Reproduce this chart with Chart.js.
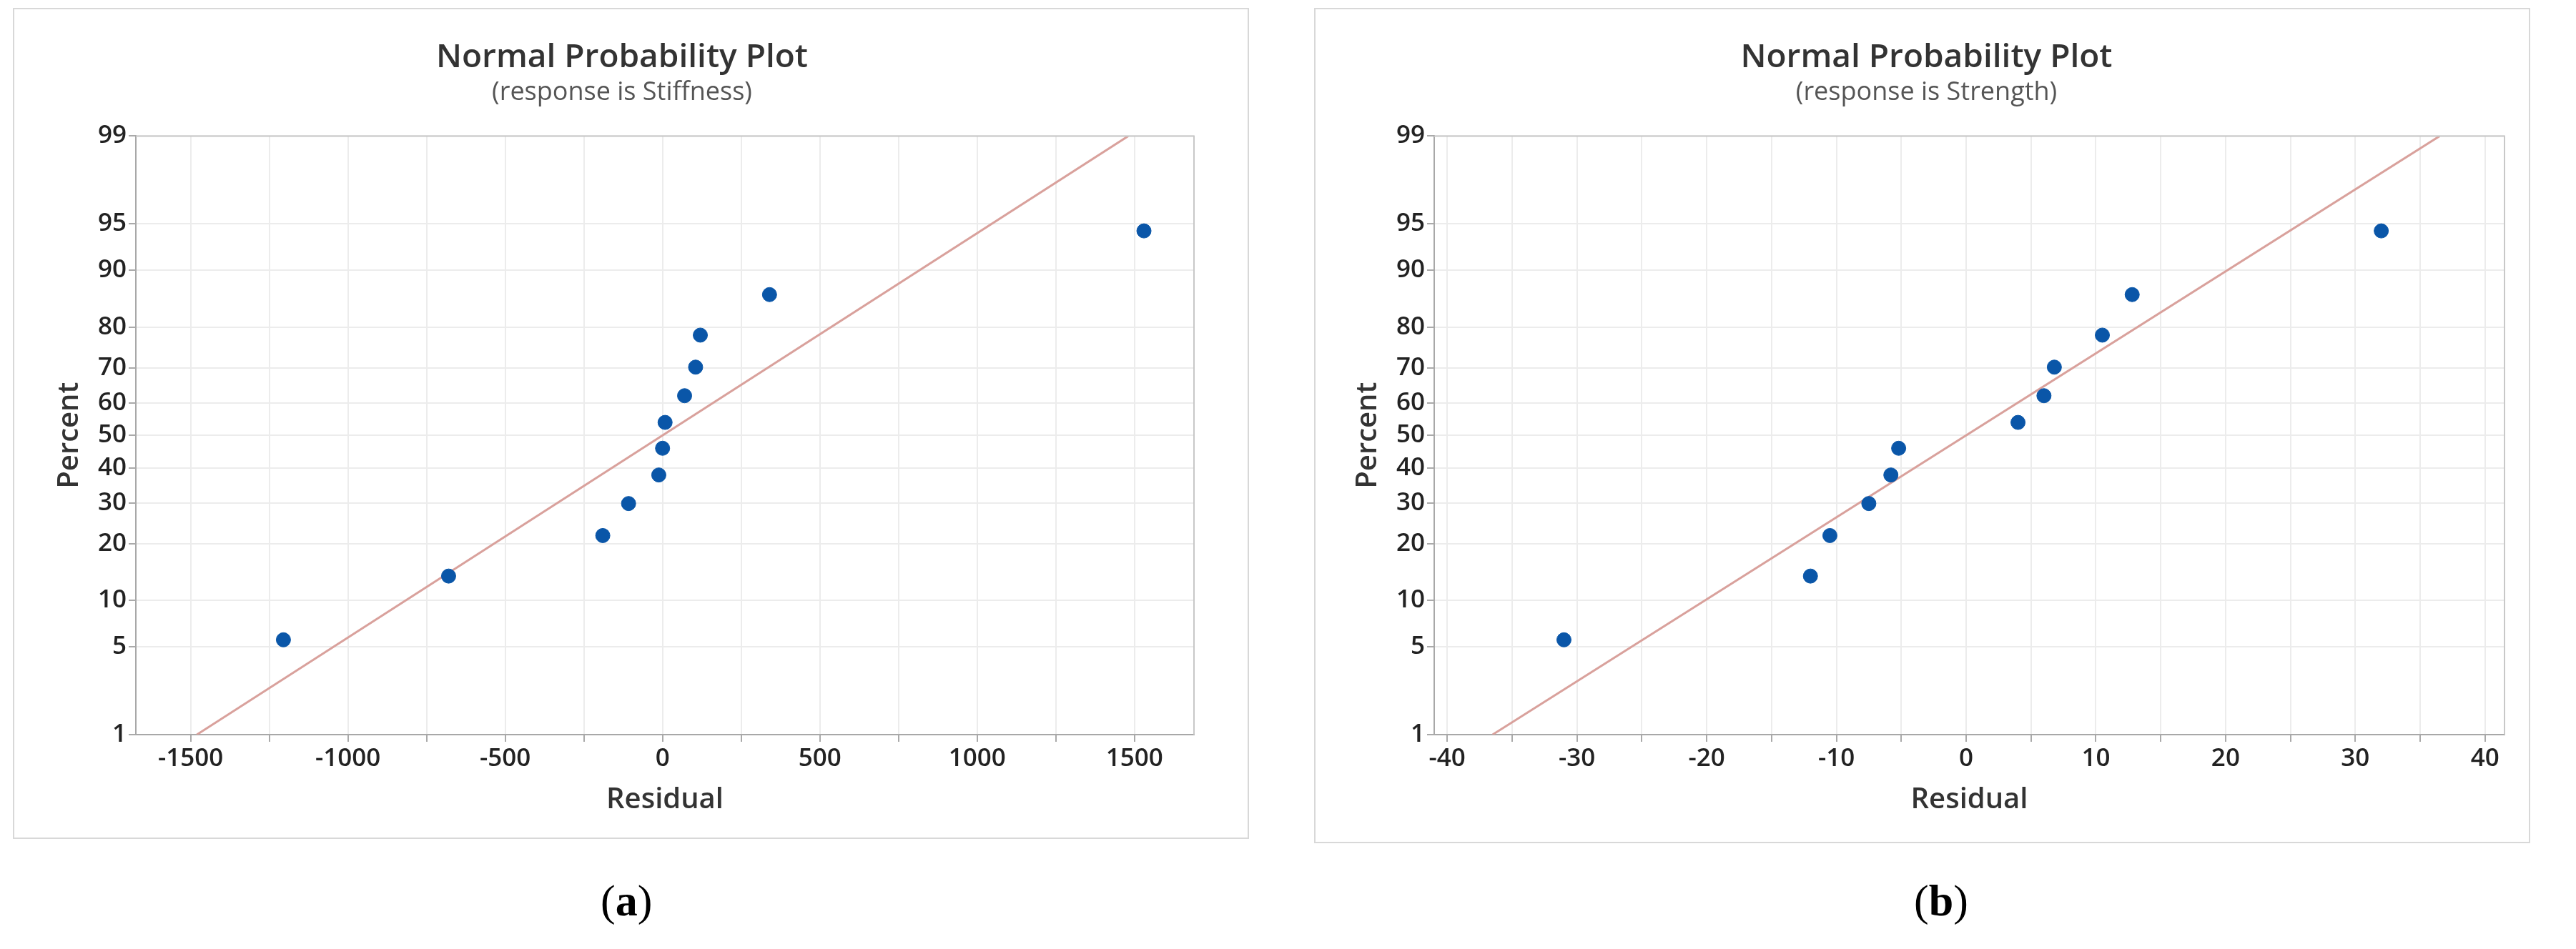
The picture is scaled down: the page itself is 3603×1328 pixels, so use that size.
<!DOCTYPE html>
<html><head><meta charset="utf-8">
<script src="https://cdn.jsdelivr.net/npm/chart.js@4.4.1/dist/chart.umd.min.js"></script>
<style>
body{margin:0;background:#fff;width:3603px;height:1328px;position:relative;overflow:hidden}
.panel{position:absolute;border:2px solid #d8d8d8;box-sizing:border-box}
.cap{position:absolute;font-family:"Liberation Serif",serif;font-size:62px;color:#000;top:1225px}
</style></head><body>
<div class="panel" style="left:18px;top:11px;width:1729px;height:1163px"><canvas id="cA"></canvas></div>
<div class="panel" style="left:1838px;top:11px;width:1701px;height:1169px"><canvas id="cB"></canvas></div>
<div class="cap" style="left:840px">(<b>a</b>)</div>
<div class="cap" style="left:2677px">(<b>b</b>)</div>
<script>
// percent positions (median ranks) shared by both plots
const pctA = [5.6, 13.7, 21.8, 29.8, 37.9, 46.0, 54.0, 62.1, 70.2, 78.2, 86.3, 94.4];
const residA = [-1205, -680, -190, -108, -12, 0, 8, 70, 105, 120, 340, 1530];
const residB = [-31, -12, -10.5, -7.5, -5.8, -5.2, 4, 6, 6.8, 10.5, 12.8, 32];
const fitXA = [-1480, 1480];
const fitXB = [-36.5, 36.5];
const fitP = [1, 99];
const yTicks = [1, 5, 10, 20, 30, 40, 50, 60, 70, 80, 90, 95, 99];

// inverse normal (Acklam)
function z(p) {
  p = p / 100;
  const a = [-39.69683028665376, 220.9460984245205, -275.9285104469687, 138.357751867269, -30.66479806614716, 2.506628277459239];
  const b = [-54.47609879822406, 161.5858368580409, -155.6989798598866, 66.80131188771972, -13.28068155288572];
  const c = [-0.007784894002430293, -0.3223964580411365, -2.400758277161838, -2.549732539343734, 4.374664141464968, 2.938163982698783];
  const d = [0.007784695709041462, 0.3224671290700398, 2.445134137142996, 3.754408661907416];
  const pl = 0.02425;
  let q, r;
  if (p < pl) {
    q = Math.sqrt(-2 * Math.log(p));
    return (((((c[0]*q+c[1])*q+c[2])*q+c[3])*q+c[4])*q+c[5]) / ((((d[0]*q+d[1])*q+d[2])*q+d[3])*q+1);
  }
  if (p > 1 - pl) {
    q = Math.sqrt(-2 * Math.log(1 - p));
    return -(((((c[0]*q+c[1])*q+c[2])*q+c[3])*q+c[4])*q+c[5]) / ((((d[0]*q+d[1])*q+d[2])*q+d[3])*q+1);
  }
  q = p - 0.5; r = q * q;
  return (((((a[0]*r+a[1])*r+a[2])*r+a[3])*r+a[4])*r+a[5])*q / (((((b[0]*r+b[1])*r+b[2])*r+b[3])*r+b[4])*r+1);
}

const font = "'Open Sans', sans-serif";

function makeChart(id, resid, fitX, xmin, xmax, step, labStep, resp, pad) {
  new Chart(document.getElementById(id), {
    type: "scatter",
    data: {
      datasets: [
        {
          data: fitX.map((x, i) => ({ x, y: z(fitP[i]) })),
          showLine: true, borderColor: "#d9a19c", borderWidth: 3,
          pointRadius: 0, order: 2
        },
        {
          data: resid.map((x, i) => ({ x, y: z(pctA[i]) })),
          backgroundColor: "#0a56a8", borderColor: "#0a56a8",
          pointRadius: 10, order: 1
        }
      ]
    },
    options: {
      responsive: true, maintainAspectRatio: false, animation: false,
      layout: { padding: pad },
      plugins: {
        legend: { display: false }, tooltip: { enabled: false },
        title: { display: true, text: "Normal Probability Plot", color: "#333",
          font: { family: font, size: 46, weight: "600" }, padding: { top: 30, bottom: 0 } },
        subtitle: { display: true, text: "(response is " + resp + ")", color: "#555",
          font: { family: font, size: 36 }, padding: { top: 0, bottom: 39 } }
      },
      scales: {
        x: {
          type: "linear", min: xmin, max: xmax,
          afterBuildTicks: ax => {
            const t = [];
            for (let v = Math.ceil(xmin / step) * step; v <= xmax; v += step) t.push({ value: v });
            ax.ticks = t;
          },
          grid: { color: "#ececec", lineWidth: 2, tickLength: 10, tickColor: "#aaa" },
          border: { color: "#a8a8a8", width: 2 },
          ticks: { color: "#222", font: { family: font, size: 35, weight: "600" }, maxRotation: 0, autoSkip: false,
            callback: v => (Math.abs(v % labStep) < 1e-9 ? v : "") },
          title: { display: true, text: "Residual", color: "#333", font: { family: font, size: 40, weight: "600" }, padding: { top: 10 } }
        },
        y: {
          type: "linear", min: z(1), max: z(99),
          afterBuildTicks: ax => { ax.ticks = yTicks.map(p => ({ value: z(p) })); },
          grid: { color: "#ececec", lineWidth: 2, tickLength: 10, tickColor: "#aaa" },
          border: { color: "#a8a8a8", width: 2 },
          ticks: { color: "#222", font: { family: font, size: 35, weight: "600" }, autoSkip: false,
            callback: (v, i) => yTicks[i] },
          title: { display: true, text: "Percent", color: "#333", font: { family: font, size: 40, weight: "600" }, padding: { bottom: 12 } }
        }
      }
    },
    plugins: [{
      id: "frame",
      afterDraw(c) {
        const { ctx, chartArea: a } = c;
        ctx.save(); ctx.strokeStyle = "#c8c8c8"; ctx.lineWidth = 2;
        ctx.beginPath(); ctx.moveTo(a.left, a.top); ctx.lineTo(a.right, a.top); ctx.lineTo(a.right, a.bottom); ctx.stroke();
        ctx.restore();
      }
    }]
  });
}

makeChart("cA", residA, fitXA, -1674, 1689, 250, 500, "Stiffness", { top: 10, right: 75, bottom: 24, left: 50 });
makeChart("cB", residB, fitXB, -41, 41.5, 5, 10, "Strength", { top: 10, right: 34, bottom: 30, left: 46 });
</script>
</body></html>
